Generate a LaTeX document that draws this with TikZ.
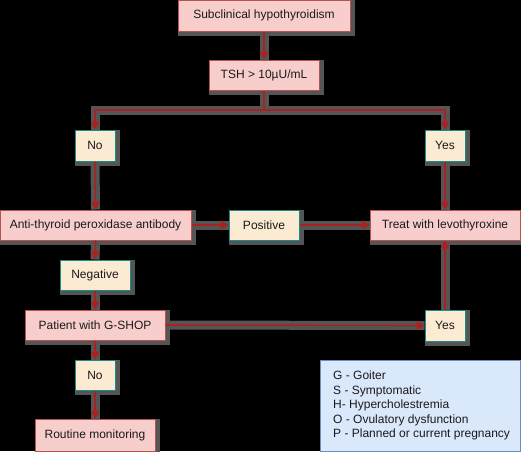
\documentclass[tikz,border=0pt]{standalone}
\usepackage{fontspec}
\setmainfont{Liberation Sans}
\usetikzlibrary{arrows.meta}
\definecolor{redfill}{HTML}{F8CECC}
\definecolor{redline}{HTML}{B85450}
\definecolor{ansfill}{HTML}{FBEBD2}
\definecolor{ansline}{HTML}{1A8A8A}
\definecolor{conn}{HTML}{A82222}
\definecolor{halo}{HTML}{555555}
\definecolor{legfill}{HTML}{DAE8FC}
\definecolor{legline}{HTML}{6C8EBF}
\definecolor{txt}{HTML}{1A1A1A}
\pgfdeclarelayer{bg}
\pgfdeclarelayer{halolayer}
\pgfsetlayers{bg,halolayer,main}
\tikzset{
  base/.style={rectangle, font=\fontsize{12}{14}\selectfont, text=txt, inner sep=0pt, line width=1pt,
    preaction={draw=halo, fill=halo, line width=5pt, transform canvas={shift={(2pt,-2pt)}}}},
  redbox/.style={base, fill=redfill, draw=redline},
  ansbox/.style={base, fill=ansfill, draw=ansline},
  conline/.style={draw=conn, line width=1.6pt, -{Triangle[length=8pt,width=9pt]}},
  haloline/.style={draw=halo, line width=9pt}
}
\begin{document}
\begin{tikzpicture}[x=1pt,y=-1pt]
\begin{pgfonlayer}{bg}
\fill[black] (0,0) rectangle (521,451);
\end{pgfonlayer}
\useasboundingbox (0,0) rectangle (521,451);
\node[redbox, minimum width=172pt, minimum height=31pt] (sub) at (264,15.5) {Subclinical hypothyroidism};
\node[redbox, minimum width=110pt, minimum height=30pt] (tsh) at (264,75) {TSH > 10µU/mL};
\coordinate (split) at (264,110);
\node[ansbox, minimum width=40pt, minimum height=31pt] (no1) at (95,145.5) {No};
\node[ansbox, minimum width=40pt, minimum height=31pt] (yes1) at (445,145.5) {Yes};
\node[redbox, minimum width=191pt, minimum height=30pt] (anti) at (95.5,225) {Anti-thyroid peroxidase antibody};
\node[ansbox, minimum width=70pt, minimum height=30pt] (pos) at (264,225) {Positive};
\node[redbox, minimum width=150pt, minimum height=30pt] (treat) at (445,225) {Treat with levothyroxine};
\node[ansbox, minimum width=70pt, minimum height=30pt] (neg) at (95,275) {Negative};
\node[redbox, minimum width=140pt, minimum height=30pt] (pat) at (95,325) {Patient with G-SHOP};
\node[ansbox, minimum width=40pt, minimum height=31pt] (yes2) at (445,325.5) {Yes};
\node[ansbox, minimum width=40pt, minimum height=30pt] (no2) at (95,375) {No};
\node[redbox, minimum width=120pt, minimum height=32pt] (rout) at (95,435) {Routine monitoring};
\node[rectangle, fill=legfill, draw=legline, line width=1pt, minimum width=200pt, minimum height=91pt,
  inner sep=0pt] (leg) at (420,405.5) {};
\node[anchor=west, align=left, inner sep=0pt, text=txt, font=\fontsize{12}{14.5}\selectfont] (legtext) at (333,405.5)
  {G - Goiter\\S - Symptomatic\\H- Hypercholestremia\\O - Ovulatory dysfunction\\P - Planned or current pregnancy};
\begin{pgfonlayer}{halolayer}
\draw[haloline] (sub.south) -- (tsh.north);
\draw[haloline] (tsh.south) -- (split) -| (no1.north);
\draw[haloline] (split) -| (yes1.north);
\draw[haloline] (no1.south) -- (anti.north);
\draw[haloline] (yes1.south) -- (treat.north);
\draw[haloline] (anti.east) -- (pos.west);
\draw[haloline] (pos.east) -- (treat.west);
\draw[haloline] (anti.south) -- (neg.north);
\draw[haloline] (neg.south) -- (pat.north);
\draw[haloline] (pat.east) -- (yes2.west);
\draw[haloline] (yes2.north) -- (treat.south);
\draw[haloline] (pat.south) -- (no2.north);
\draw[haloline] (no2.south) -- (rout.north);
\end{pgfonlayer}
\draw[conline] (sub.south) -- (tsh.north);
\draw[conline] (tsh.south) -- (split) -| (no1.north);
\draw[conline] (split) -| (yes1.north);
\draw[conline] (no1.south) -- (anti.north);
\draw[conline] (yes1.south) -- (treat.north);
\draw[conline] (anti.east) -- (pos.west);
\draw[conline] (pos.east) -- (treat.west);
\draw[conline] (anti.south) -- (neg.north);
\draw[conline] (neg.south) -- (pat.north);
\draw[conline] (pat.east) -- (yes2.west);
\draw[conline] (yes2.north) -- (treat.south);
\draw[conline] (pat.south) -- (no2.north);
\draw[conline] (no2.south) -- (rout.north);
\end{tikzpicture}
\end{document}
